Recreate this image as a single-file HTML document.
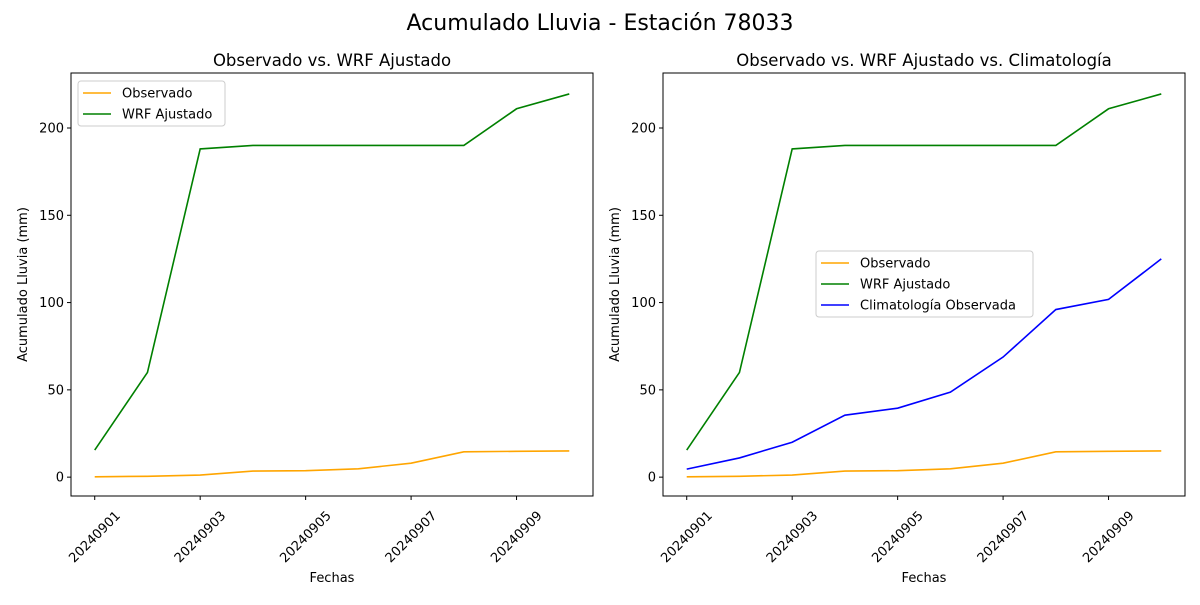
<!DOCTYPE html>
<html><head><meta charset="utf-8"><style>
body{margin:0;background:#fff;}
svg text{font-family:"DejaVu Sans","Liberation Sans",sans-serif;fill:#000;}
</style></head><body>
<svg id="fig" width="1200" height="600" xmlns="http://www.w3.org/2000/svg">
<text x="600" y="30" font-size="22" text-anchor="middle">Acumulado Lluvia - Estación 78033</text>
</svg>
<script>
const categories=["20240901","20240902","20240903","20240904","20240905","20240906","20240907","20240908","20240909","20240910"];
const observado=[0.2,0.5,1.2,3.5,3.7,4.8,8,14.5,14.8,15];
const wrf=[15.5,60,188,190,190,190,190,190,211,219.5];
const clim=[4.6,11,20,35.5,39.5,48.7,68.8,96,101.8,125];
const yTicks=[0,50,100,150,200];
const NS="http://www.w3.org/2000/svg";
const svg=document.getElementById('fig');
function mk(tag,attrs,parent){const e=document.createElementNS(NS,tag);for(const k in attrs)e.setAttribute(k,attrs[k]);(parent||svg).appendChild(e);return e;}
function panel(x0,title,series,legend,id){
  const x1=x0+522,y0=73,y1=496;
  const ymin=-10.8,ymax=231.5,xmin=-0.45,xmax=categories.length-1+0.45;
  const X=i=>x0+(i-xmin)/(xmax-xmin)*(x1-x0);
  const Y=v=>y1-(v-ymin)/(ymax-ymin)*(y1-y0);
  const g=mk('g',{});
  
  
  const t=mk('text',{x:(x0+x1)/2,y:66,'font-size':16.5,'text-anchor':'middle'},g);t.textContent=title;
  
  
  series.forEach(s=>{
    const p=mk('polyline',{points:s.data.map((v,i)=>X(i)+','+Y(v)).join(' '),fill:'none',stroke:s.color,'stroke-width':1.6},g);
    
    
  });
  mk('rect',{x:x0,y:y0,width:x1-x0,height:y1-y0,fill:'none',stroke:'#000','stroke-width':1},g);
  yTicks.forEach(v=>{
    mk('line',{x1:x0-4,x2:x0,y1:Y(v),y2:Y(v),stroke:'#000'},g);
    const tt=mk('text',{x:x0-7,y:Y(v)+4.5,'font-size':13,'text-anchor':'end'},g);tt.textContent=v;
    
    
  });
  categories.forEach((c,i)=>{
    if(i%2)return;
    mk('line',{x1:X(i),x2:X(i),y1:y1,y2:y1+4,stroke:'#000'},g);
    const tt=mk('text',{x:X(i),y:541,'font-size':13,'text-anchor':'middle',transform:`rotate(-45 ${X(i)} 537)`},g);tt.textContent=c;
    
    
  });
  const xl=mk('text',{x:(x0+x1)/2,y:582,'font-size':13,'text-anchor':'middle'},g);xl.textContent='Fechas';
  
  
  const yl=mk('text',{x:0,y:0,'font-size':13,'text-anchor':'middle',transform:`translate(${x0-44} ${(y0+y1)/2}) rotate(-90)`},g);yl.textContent='Acumulado Lluvia (mm)';
  
  
  const lg=mk('g',{},g);
  
  
  mk('rect',{x:legend.x,y:legend.y,width:legend.w,height:series.length*21+3,fill:'#fff',stroke:'#ccc',rx:3},lg);
  series.forEach((s,k)=>{
    const yy=legend.y+12+k*21;
    mk('line',{x1:legend.x+5,x2:legend.x+33,y1:yy,y2:yy,stroke:s.color,'stroke-width':1.6},lg);
    const tt=mk('text',{x:legend.x+44,y:yy+4.5,'font-size':13},lg);tt.textContent=s.label;
    
    
  });
}
const s1=[{key:'observado',label:'Observado',color:'orange',data:observado},{key:'wrf',label:'WRF Ajustado',color:'green',data:wrf}];
panel(71,'Observado vs. WRF Ajustado',s1,{x:78,y:81,w:147},'left');
panel(663,'Observado vs. WRF Ajustado vs. Climatología',s1.concat([{key:'clim',label:'Climatología Observada',color:'blue',data:clim}]),{x:816,y:251,w:217},'right');
</script>
</body></html>
